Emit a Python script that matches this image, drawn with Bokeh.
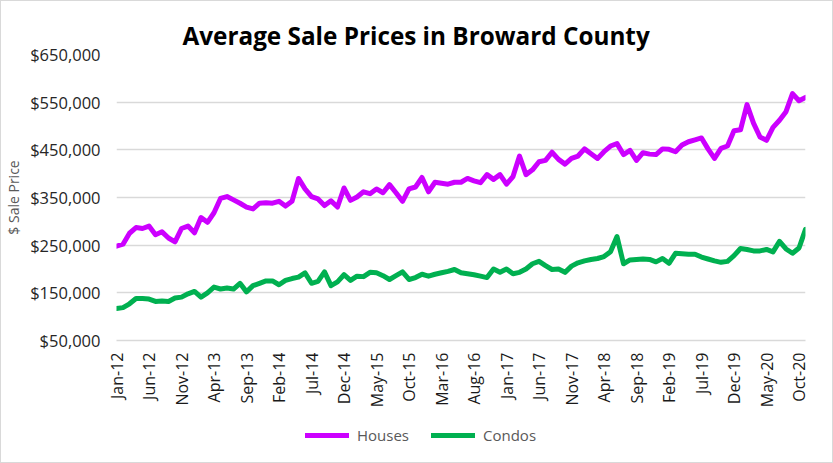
import math
import pandas as pd
from bokeh.plotting import figure
from bokeh.layouts import column
from bokeh.models import (FixedTicker, NumeralTickFormatter, Legend, LegendItem,
                          ColumnDataSource, Range1d)
from bokeh.embed import file_html
from bokeh.resources import INLINE

# ---- data -------------------------------------------------------------
months = list(pd.date_range("2012-01-01", periods=107, freq="MS").strftime("%b-%y"))

houses = [
    248000, 252000, 275000, 287000, 285000, 290000, 272000, 278000, 265000, 257000,
    285000, 290000, 276000, 308000, 298000, 318000, 348000, 352000, 345000, 338000,
    330000, 326000, 338000, 339000, 338000, 342000, 332000, 342000, 390000, 368000,
    352000, 347000, 333000, 343000, 330000, 370000, 344000, 351000, 362000, 358000,
    368000, 360000, 377000, 360000, 342000, 368000, 372000, 392000, 362000, 382000,
    380000, 378000, 382000, 382000, 390000, 385000, 381000, 398000, 388000, 398000,
    378000, 394000, 437000, 398000, 408000, 425000, 428000, 445000, 430000, 420000,
    432000, 437000, 452000, 442000, 432000, 446000, 458000, 463000, 440000, 449000,
    428000, 444000, 441000, 440000, 452000, 451000, 446000, 460000, 467000, 471000,
    475000, 452000, 432000, 453000, 458000, 490000, 492000, 545000, 506000, 477000,
    470000, 497000, 512000, 530000, 568000, 553000, 560000,
]

condos = [
    117000, 119000, 127000, 138000, 138000, 137000, 132000, 133000, 132000, 139000,
    141000, 148000, 153000, 141000, 150000, 162000, 158000, 160000, 158000, 170000,
    152000, 165000, 170000, 175000, 175000, 167000, 176000, 180000, 183000, 192000,
    170000, 174000, 194000, 165000, 173000, 188000, 176000, 185000, 184000, 193000,
    192000, 186000, 178000, 186000, 194000, 178000, 182000, 189000, 185000, 189000,
    192000, 195000, 199000, 192000, 190000, 188000, 185000, 182000, 200000, 193000,
    200000, 190000, 193000, 200000, 211000, 216000, 207000, 199000, 200000, 193000,
    206000, 213000, 217000, 220000, 222000, 226000, 236000, 268000, 211000, 219000,
    220000, 221000, 220000, 215000, 222000, 212000, 233000, 232000, 231000, 231000,
    225000, 221000, 217000, 214000, 216000, 228000, 243000, 241000, 238000, 238000,
    241000, 236000, 258000, 242000, 233000, 244000, 283000,
]

series_names = ["Houses", "Condos"]
series_cols = ["houses", "condos"]
series_colors = ["#CC00FF", "#00B050"]
y_ticks = [50000, 150000, 250000, 350000, 450000, 550000, 650000]
label_every = 5

# ---- main figure ------------------------------------------------------
idx = list(range(len(months)))
src = ColumnDataSource(dict(x=idx, month=months, houses=houses, condos=condos))

FONT = "Open Sans"

p = figure(width=831, height=411, output_backend="svg", toolbar_location=None,
           x_range=Range1d(0, len(months) - 1), y_range=Range1d(y_ticks[0], y_ticks[-1]),
           min_border_left=115, min_border_right=27, min_border_top=53, min_border_bottom=72,
           background_fill_color="white", border_fill_color="white",
           outline_line_color=None)

p.title.text = "Average Sale Prices in Broward County"
p.title.text_font = FONT
p.title.text_font_size = "24.3px"
p.title.text_font_style = "bold"
p.title.text_color = "black"
p.title.align = "left"
p.title.offset = 66
p.title.standoff = 6

for col, c in zip(series_cols, series_colors):
    p.line("x", col, source=src, line_color=c, line_width=5,
           line_join="round", line_cap="round")

xt = list(range(0, len(months), label_every))
p.xaxis.ticker = FixedTicker(ticks=xt)
p.xaxis.major_label_overrides = {i: months[i] for i in xt}
p.xaxis.major_label_orientation = math.pi / 2
p.xaxis.major_label_text_font = FONT
p.xaxis.major_label_text_font_size = "16px"
p.xaxis.major_label_text_color = "#1a1a1a"
p.xaxis.major_label_standoff = 12
p.xaxis.major_tick_out = 0
p.xaxis.major_tick_in = 0
p.xaxis.axis_line_color = "#d9d9d9"
p.xaxis.axis_line_width = 1.5
p.xaxis.major_tick_line_color = None
p.xaxis.minor_tick_line_color = None

p.yaxis.ticker = FixedTicker(ticks=y_ticks)
p.yaxis.formatter = NumeralTickFormatter(format="$0,0")
p.yaxis.major_label_text_font = FONT
p.yaxis.major_label_text_font_size = "16.5px"
p.yaxis.major_label_text_color = "#262626"
p.yaxis.major_label_standoff = 16
p.yaxis.major_tick_out = 0
p.yaxis.major_tick_in = 0
p.yaxis.axis_line_color = None
p.yaxis.major_tick_line_color = None
p.yaxis.minor_tick_line_color = None
p.yaxis.axis_label = "$ Sale Price"
p.yaxis.axis_label_text_font = FONT
p.yaxis.axis_label_text_font_size = "14px"
p.yaxis.axis_label_text_font_style = "normal"
p.yaxis.axis_label_text_color = "#595959"
p.yaxis.axis_label_standoff = 4

p.xgrid.grid_line_color = None
p.ygrid.grid_line_color = "#d9d9d9"
p.ygrid.grid_line_width = 1.5

# ---- legend strip (same series, drawn outside its empty range; only the key shows) ----
leg = figure(width=831, height=50, output_backend="svg", toolbar_location=None,
             x_range=Range1d(0, 1), y_range=Range1d(0, 1),
             min_border=0, background_fill_color="white", border_fill_color="white",
             outline_line_color=None)
leg.axis.visible = False
leg.grid.visible = False
key_renderers = [leg.line("x", col, source=src, line_color=c, line_width=5,
                          line_cap="round")
                 for col, c in zip(series_cols, series_colors)]
legend = Legend(items=[LegendItem(label=n, renderers=[r])
                       for n, r in zip(series_names, key_renderers)],
                orientation="horizontal", location=(189, 16),
                glyph_width=44, glyph_height=22, label_standoff=8, spacing=22,
                padding=0, margin=0, border_line_color=None,
                background_fill_alpha=0,
                label_text_font=FONT, label_text_font_size="15px",
                label_text_color="#595959")
leg.add_layout(legend)

layout = column(p, leg, spacing=0, styles={"border": "1px solid #d9d9d9"})

open("out.html", "w").write(file_html(layout, INLINE))
